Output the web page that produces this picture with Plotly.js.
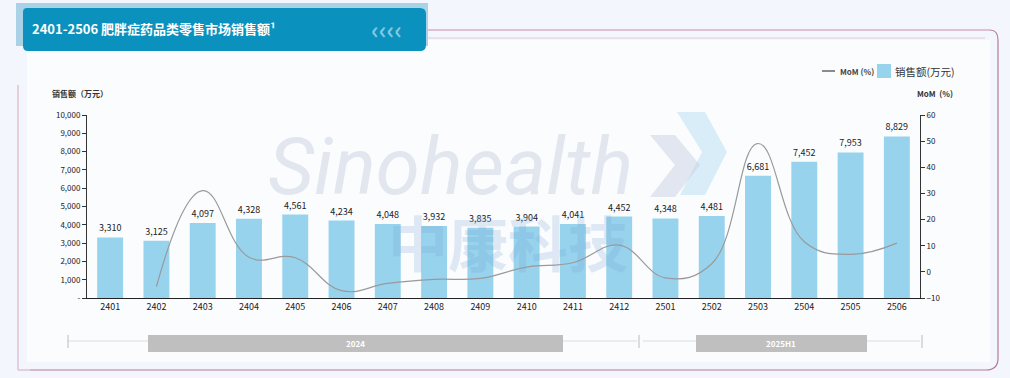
<!DOCTYPE html>
<html><head><meta charset="utf-8">
<script src="https://cdn.plot.ly/plotly-3.0.1.min.js"></script>
<style>html,body{margin:0;padding:0;background:#f3f6fc;}#chart{width:1010px;height:378px;}</style>
</head><body><div id="chart"></div>
<script>
const months = ['2401','2402','2403','2404','2405','2406','2407','2408','2409','2410','2411','2412','2501','2502','2503','2504','2505','2506'];
const sales = [3310,3125,4097,4328,4561,4234,4048,3932,3835,3904,4041,4452,4348,4481,6681,7452,7953,8829];
const momMonths = ['2402','2403','2404','2405','2406','2407','2408','2409','2410','2411','2412','2501','2502','2503','2504','2505','2506'];
const mom = [-5.6,31.1,5.6,5.4,-7.2,-4.4,-2.9,-2.5,1.8,3.5,10.2,-2.3,3.1,49.1,11.5,6.7,11.0];
const leftTicks = [0,1000,2000,3000,4000,5000,6000,7000,8000,9000,10000];
const leftTickText = ['-','1,000','2,000','3,000','4,000','5,000','6,000','7,000','8,000','9,000','10,000'];
const rightTicks = [-10,0,10,20,30,40,50,60];
const periods = ['2024','2025H1'];
const seriesNames = ['MoM (%)','销售额(万元)'];

const L=87,R=920,T=115,B=298;
const px=x=>(x-L)/(R-L), py=y=>(B-y)/(B-T);
const font="'Noto Sans CJK SC', 'Noto Sans', sans-serif";
const barColor='#97d3ed', lineColor='#9a9a9a';

const traces=[
 {type:'bar',x:months,y:sales,name:seriesNames[1],marker:{color:barColor},width:0.56,
  text:sales.map(v=>v.toLocaleString('en-US')),textposition:'outside',cliponaxis:false,
  textfont:{size:9,color:'#222',family:font},showlegend:false},
 {type:'scatter',mode:'lines',x:momMonths,y:mom,yaxis:'y2',name:seriesNames[0],
  line:{color:lineColor,width:1.2,shape:'spline',smoothing:1.2},showlegend:false}
];

const P=(x,y)=>px(x)+' '+py(y);
const shapes=[
 {type:'rect',xref:'paper',yref:'paper',x0:px(27),x1:px(990),y0:py(362),y1:py(40),fillcolor:'#fbfcfe',line:{width:0},layer:'below'},
 {type:'line',xref:'paper',yref:'paper',x0:px(426),x1:px(990),y0:py(30),y1:py(30),line:{color:'#c98aa6',width:1}},
 {type:'line',xref:'paper',yref:'paper',x0:px(426),x1:px(985),y0:py(38),y1:py(38),line:{color:'#e3c8d6',width:1}},
 {type:'path',xref:'paper',yref:'paper',path:`M ${P(990,30)} Q ${P(998,30)} ${P(998,40)} L ${P(998,358)} Q ${P(998,370)} ${P(986,370)} L ${P(30,370)}`,line:{color:'#b77a9a',width:1.2}},
 {type:'line',xref:'paper',yref:'paper',x0:px(18),x1:px(18),y0:py(85),y1:py(370),line:{color:'#d7a7bf',width:1}},
 {type:'line',xref:'paper',yref:'paper',x0:px(18),x1:px(30),y0:py(370),y1:py(370),line:{color:'#d7a7bf',width:1}},
 // banner
 {type:'rect',xref:'paper',yref:'paper',x0:px(16),x1:px(428),y0:py(46),y1:py(3),fillcolor:'#a9d2e6',line:{width:0}},
 {type:'path',xref:'paper',yref:'paper',path:`M ${P(27,8)} L ${P(420,8)} Q ${P(426,8)} ${P(426,14)} L ${P(426,45)} Q ${P(426,51)} ${P(420,51)} L ${P(28,51)} Q ${P(23,51)} ${P(23,46)} L ${P(23,12)} Q ${P(23,8)} ${P(27,8)} Z`,fillcolor:'#0a91bd',line:{width:0}},
 // period brackets
 {type:'line',xref:'paper',yref:'paper',x0:px(68),x1:px(637),y0:py(341),y1:py(341),line:{color:'#dcdcdc',width:1}},
 {type:'line',xref:'paper',yref:'paper',x0:px(68),x1:px(68),y0:py(335),y1:py(348),line:{color:'#bbbbbb',width:1}},
 {type:'line',xref:'paper',yref:'paper',x0:px(639),x1:px(639),y0:py(335),y1:py(348),line:{color:'#bbbbbb',width:1}},
 {type:'line',xref:'paper',yref:'paper',x0:px(643),x1:px(920),y0:py(341),y1:py(341),line:{color:'#dcdcdc',width:1}},
 {type:'line',xref:'paper',yref:'paper',x0:px(922),x1:px(922),y0:py(335),y1:py(348),line:{color:'#bbbbbb',width:1}},
 {type:'rect',xref:'paper',yref:'paper',x0:px(148),x1:px(563),y0:py(352),y1:py(335),fillcolor:'#bfbfbf',line:{width:0}},
 {type:'rect',xref:'paper',yref:'paper',x0:px(696),x1:px(867),y0:py(352),y1:py(335),fillcolor:'#bfbfbf',line:{width:0}},
 // watermark chevrons
 {type:'path',xref:'paper',yref:'paper',path:`M ${P(677,112)} L ${P(705,112)} L ${P(727,152)} L ${P(705,195)} L ${P(680,195)} L ${P(702,152)} Z`,fillcolor:'rgba(175,220,245,0.45)',line:{width:0},layer:'below'},
 {type:'path',xref:'paper',yref:'paper',path:`M ${P(650,135)} L ${P(675,135)} L ${P(700,165)} L ${P(675,197)} L ${P(650,197)} L ${P(675,165)} Z`,fillcolor:'rgba(200,208,225,0.5)',line:{width:0},layer:'below'},
 // legend
 {type:'line',xref:'paper',yref:'paper',x0:px(822),x1:px(835),y0:py(71),y1:py(71),line:{color:'#666',width:1.5}},
 {type:'rect',xref:'paper',yref:'paper',x0:px(877),x1:px(891),y0:py(78),y1:py(64),fillcolor:barColor,line:{width:0}}
];

const ann=[
 {xref:'paper',yref:'paper',x:px(30),y:py(29),xanchor:'left',yanchor:'middle',showarrow:false,
  text:'<b>2401-2506 肥胖症药品类零售市场销售额¹</b>',font:{family:font,size:13,color:'#ffffff'}},
 {xref:'paper',yref:'paper',x:px(386),y:py(29),xanchor:'center',yanchor:'middle',showarrow:false,
  text:'<b>‹‹‹‹</b>',font:{family:font,size:24,color:'rgba(255,255,255,0.5)'}},
 {xref:'paper',yref:'paper',x:px(50),y:py(93),xanchor:'left',yanchor:'middle',showarrow:false,
  text:'<b>销售额（万元）</b>',font:{family:font,size:8,color:'#333'}},
 {xref:'paper',yref:'paper',x:px(915),y:py(93),xanchor:'left',yanchor:'middle',showarrow:false,
  text:'<b>MoM  (%)</b>',font:{family:font,size:8,color:'#333'}},
 {xref:'paper',yref:'paper',x:px(838),y:py(71),xanchor:'left',yanchor:'middle',showarrow:false,
  text:'<b>'+seriesNames[0]+'</b>',font:{family:font,size:8,color:'#444'}},
 {xref:'paper',yref:'paper',x:px(893),y:py(71),xanchor:'left',yanchor:'middle',showarrow:false,
  text:seriesNames[1],font:{family:font,size:10.5,color:'#333'}},
 {xref:'paper',yref:'paper',x:px(355),y:py(343.5),xanchor:'center',yanchor:'middle',showarrow:false,
  text:'<b>'+periods[0]+'</b>',font:{family:font,size:8,color:'#ffffff'}},
 {xref:'paper',yref:'paper',x:px(781),y:py(343.5),xanchor:'center',yanchor:'middle',showarrow:false,
  text:'<b>'+periods[1]+'</b>',font:{family:font,size:8,color:'#ffffff'}},
 {xref:'paper',yref:'paper',x:px(450),y:py(167),xanchor:'center',yanchor:'middle',showarrow:false,
  text:'<i>Sinohealth</i>',font:{family:'Roboto, sans-serif',size:80,color:'rgba(195,203,220,0.45)'}},
 {xref:'paper',yref:'paper',x:px(508),y:py(240),xanchor:'center',yanchor:'middle',showarrow:false,
  text:'<b>中康科技</b>',font:{family:font,size:60,color:'rgba(120,165,210,0.22)'}}
];

const layout={
 width:1010,height:378,margin:{l:L,r:1010-R,t:T,b:378-B},
 paper_bgcolor:'#f3f6fc',plot_bgcolor:'rgba(0,0,0,0)',
 font:{family:font,size:9,color:'#222'},
 showlegend:false,
 xaxis:{type:'category',categoryorder:'array',categoryarray:months,tickfont:{size:9,color:'#222'},showline:true,linecolor:'#222',linewidth:1,
  ticks:'',showgrid:false,zeroline:false,fixedrange:true},
 yaxis:{range:[0,10000],tickvals:leftTicks,ticktext:leftTickText,showgrid:false,zeroline:false,
  showline:true,linecolor:'#333',linewidth:1,ticks:'outside',ticklen:4,tickcolor:'#333',tickfont:{size:8,color:'#222'}},
 yaxis2:{range:[-10,60],tickvals:rightTicks,overlaying:'y',side:'right',showgrid:false,zeroline:false,
  showline:true,linecolor:'#333',linewidth:1,ticks:'outside',ticklen:4,tickcolor:'#333',tickfont:{size:8,color:'#222'}},
 shapes:shapes,annotations:ann
};
Plotly.newPlot('chart',traces,layout,{displayModeBar:false,staticPlot:true});
</script></body></html>
